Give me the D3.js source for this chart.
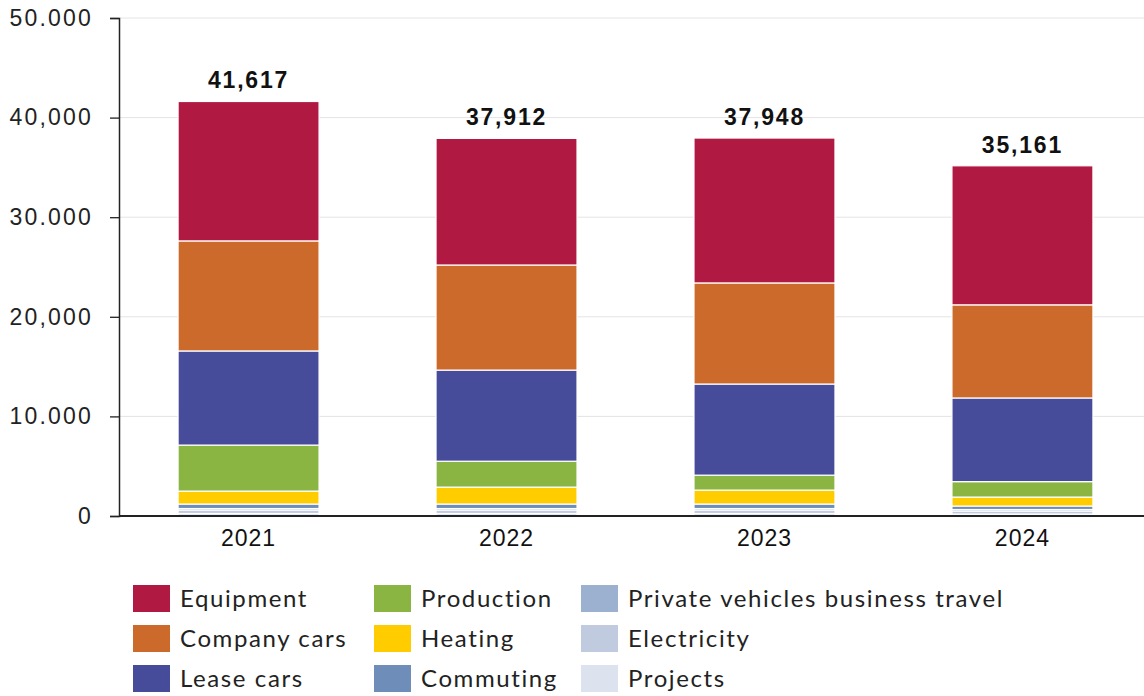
<!DOCTYPE html>
<html>
<head>
<meta charset="utf-8">
<script src="https://cdn.jsdelivr.net/npm/d3@7"></script>
<style>
  html, body { margin: 0; padding: 0; background: #fff; }
  svg { display: block; }
</style>
</head>
<body>
<svg id="chart" width="1144" height="696"></svg>
<script>
// Emissions per year, stacked by source (bottom to top is reverse legend order)
const years = ["2021", "2022", "2023", "2024"];
const totals = [41617, 37912, 37948, 35161];

const equipment        = [13997, 12712, 14548, 13961];
const companyCars      = [11050, 10550, 10150, 9350];
const leaseCars        = [9450, 9150, 9150, 8400];
const production       = [4620, 2600, 1500, 1550];
const heating          = [1300, 1700, 1400, 900];
const commuting        = [450, 450, 450, 350];
const privateVehicles  = [150, 150, 150, 150];
const electricity      = [350, 350, 350, 300];
const projects         = [250, 250, 250, 200];

const seriesNames = ["Equipment", "Company cars", "Lease cars", "Production", "Heating",
  "Commuting", "Private vehicles business travel", "Electricity", "Projects"];
const seriesColors = ["#B01942", "#CC6A2B", "#464C9A", "#8AB543", "#FFCC00",
  "#6F8DB9", "#9CB0CF", "#C0CBDF", "#DCE3EE"];

const yTickValues = [0, 10000, 20000, 30000, 40000, 50000];
const yTickLabels = ["0", "10.000", "20,000", "30.000", "40,000", "50.000"];

// Build the row table for d3.stack
const seriesValues = [equipment, companyCars, leaseCars, production, heating,
  commuting, privateVehicles, electricity, projects];
const rows = years.map((yr, i) => {
  const r = { year: yr };
  seriesNames.forEach((name, k) => { r[name] = seriesValues[k][i]; });
  return r;
});
// stack from the bottom: Projects first, Equipment last
const stackKeys = seriesNames.slice().reverse();
const stacked = d3.stack().keys(stackKeys)(rows);
const colorOf = d3.scaleOrdinal().domain(seriesNames).range(seriesColors);

const svg = d3.select("#chart");

const x = d3.scaleBand().domain(years).range([119, 1152])
  .paddingInner(0.4535).paddingOuter(0.229);
const y = d3.scaleLinear().domain([0, 50000]).range([516, 18]);

// horizontal gridlines
svg.append("g")
  .selectAll("line")
  .data(yTickValues.slice(1))
  .join("line")
  .attr("x1", 119).attr("x2", 1144)
  .attr("y1", d => y(d)).attr("y2", d => y(d))
  .attr("stroke", "#e4e4e4").attr("stroke-width", 1);

// stacked bars
svg.append("g")
  .selectAll("g")
  .data(stacked)
  .join("g")
  .attr("fill", s => colorOf(s.key))
  .selectAll("rect")
  .data(s => s)
  .join("rect")
  .attr("x", d => x(d.data.year))
  .attr("width", x.bandwidth())
  .attr("y", d => y(d[1]))
  .attr("height", d => y(d[0]) - y(d[1]))
  .attr("stroke", "#ffffff")
  .attr("stroke-width", 1.2);

// y axis
const yAxis = d3.axisLeft(y)
  .tickValues(yTickValues)
  .tickFormat((d, i) => yTickLabels[i])
  .tickSize(9)
  .tickPadding(17);
const gy = svg.append("g").attr("transform", "translate(119,0)").call(yAxis);
gy.select(".domain").attr("stroke", "#222").attr("stroke-width", 1.5);
gy.selectAll(".tick line").attr("stroke", "#222").attr("stroke-width", 1.3);
gy.selectAll(".tick text")
  .attr("font-family", "'Liberation Sans', Arial, sans-serif")
  .attr("font-size", 23)
  .attr("letter-spacing", "2.2px")
  .attr("fill", "#222");

// x axis baseline and year labels
const xAxis = d3.axisBottom(x).tickSize(0).tickPadding(14);
const gx = svg.append("g").attr("transform", "translate(0,516)").call(xAxis);
gx.select(".domain").attr("d", "M119,0H1144").attr("stroke", "#222").attr("stroke-width", 2.2);
gx.selectAll(".tick text")
  .attr("font-family", "'Liberation Sans', Arial, sans-serif")
  .attr("font-size", 23)
  .attr("letter-spacing", "1px")
  .attr("fill", "#111");

// total labels above bars
svg.append("g")
  .selectAll("text")
  .data(years)
  .join("text")
  .attr("x", d => x(d) + x.bandwidth() / 2)
  .attr("y", (d, i) => y(totals[i]) - 13)
  .attr("text-anchor", "middle")
  .attr("font-family", "'Liberation Sans', Arial, sans-serif")
  .attr("font-weight", "bold")
  .attr("font-size", 23)
  .attr("letter-spacing", "1.8px")
  .attr("fill", "#111")
  .text((d, i) => d3.format(",")(totals[i]));

// legend: three columns, filled column by column
const legendCols = [133, 374, 581];
const legendRowY = [585, 625, 665];
const legend = svg.append("g")
  .selectAll("g")
  .data(seriesNames)
  .join("g")
  .attr("transform", (d, i) =>
    `translate(${legendCols[Math.floor(i / 3)]},${legendRowY[i % 3]})`);
legend.append("rect")
  .attr("width", 37).attr("height", 27)
  .attr("fill", d => colorOf(d));
legend.append("text")
  .attr("x", 47).attr("y", 22)
  .attr("font-family", "Lato, 'Noto Sans', sans-serif")
  .attr("font-size", 24)
  .attr("letter-spacing", "1.6px")
  .attr("fill", "#222")
  .text(d => d);
</script>
</body>
</html>
